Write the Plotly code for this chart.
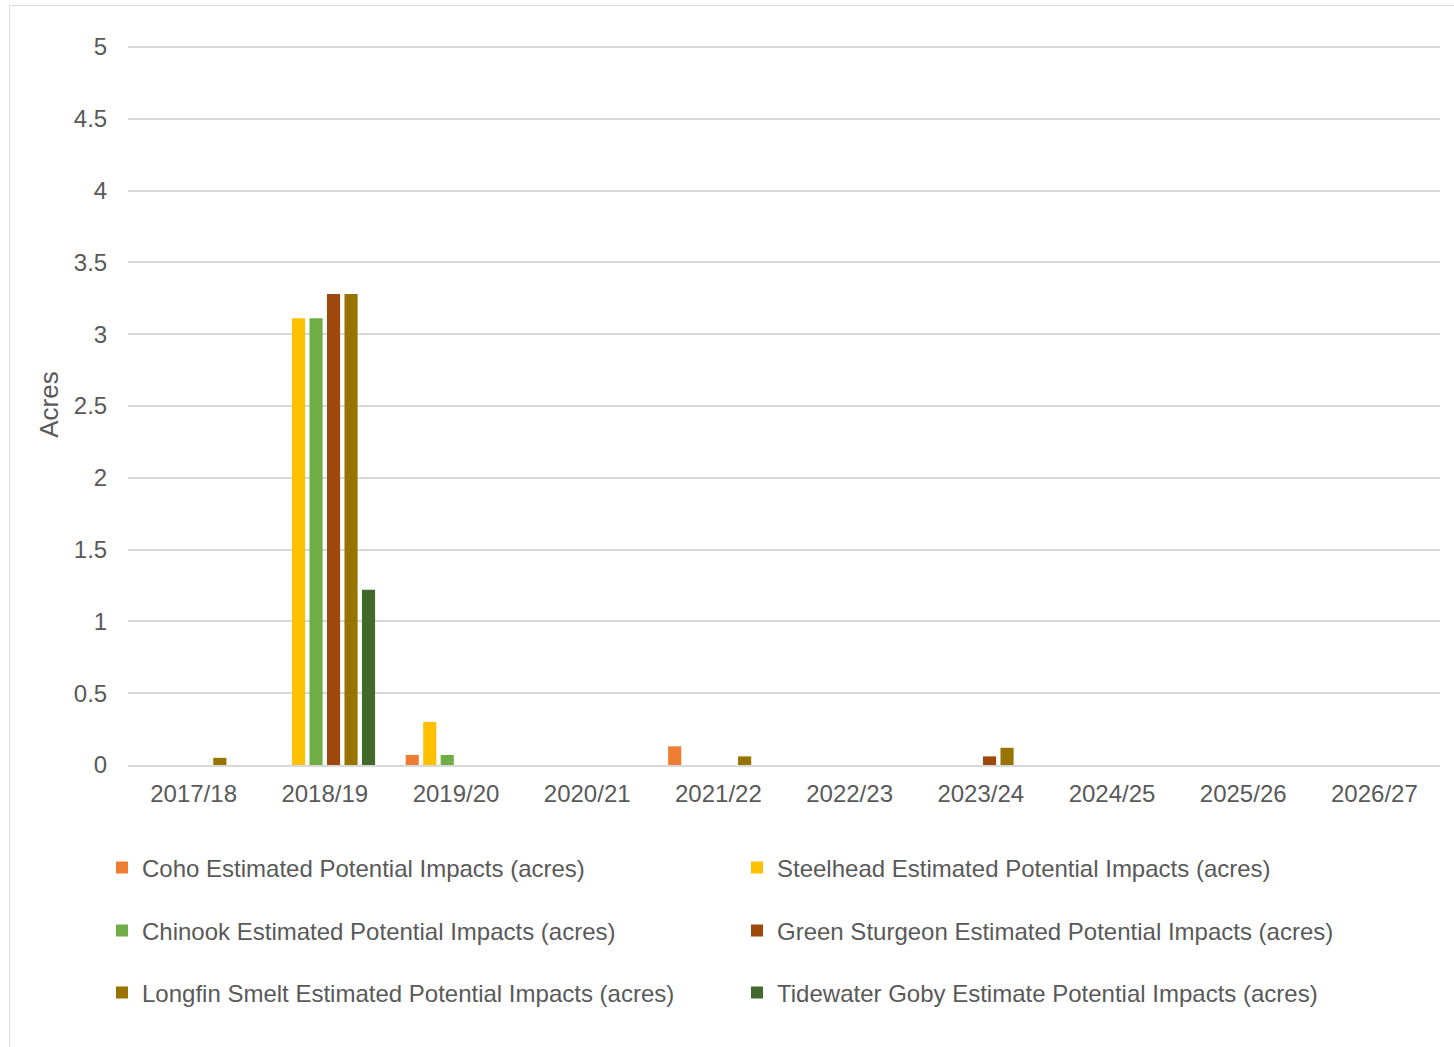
import plotly.graph_objects as go

# Fiscal years on the category axis
years = ["2017/18", "2018/19", "2019/20", "2020/21", "2021/22",
         "2022/23", "2023/24", "2024/25", "2025/26", "2026/27"]

# Estimated potential impacts per species (acres)
coho = [0, 0, 0.07, 0, 0.13, 0, 0, 0, 0, 0]
steelhead = [0, 3.11, 0.30, 0, 0, 0, 0, 0, 0, 0]
chinook = [0, 3.11, 0.07, 0, 0, 0, 0, 0, 0, 0]
green_sturgeon = [0, 3.28, 0, 0, 0, 0, 0.06, 0, 0, 0]
longfin_smelt = [0.05, 3.28, 0, 0, 0.06, 0, 0.12, 0, 0, 0]
tidewater_goby = [0, 1.22, 0, 0, 0, 0, 0, 0, 0, 0]

series = [
    ("Coho Estimated Potential Impacts (acres)", coho, "#ED7D31", "legend"),
    ("Steelhead Estimated Potential Impacts (acres)", steelhead, "#FFC000", "legend"),
    ("Chinook Estimated Potential Impacts (acres)", chinook, "#70AD47", "legend2"),
    ("Green Sturgeon Estimated Potential Impacts (acres)", green_sturgeon, "#9E480E", "legend2"),
    ("Longfin Smelt Estimated Potential Impacts (acres)", longfin_smelt, "#997300", "legend3"),
    ("Tidewater Goby Estimate Potential Impacts (acres)", tidewater_goby, "#43682B", "legend3"),
]

FONT = "Liberation Sans, Arial, sans-serif"
GREY_TEXT = "#595959"
GRID = "#D9D9D9"

W, H = 1454, 1047
L, R, T, B = 128, 14, 44, 282
plot_w = W - L - R
plot_h = H - T - B

fig = go.Figure()
for name, vals, color, leg in series:
    fig.add_trace(go.Bar(
        x=years, y=vals, name=name, legend=leg,
        marker=dict(color=color, line=dict(width=0)),
    ))


def py(pixel_y):
    return (H - B - pixel_y) / plot_h


def px(pixel_x):
    return (pixel_x - L) / plot_w


legend_style = dict(
    orientation="h", xanchor="left", yanchor="middle",
    font=dict(family=FONT, size=24, color=GREY_TEXT),
    entrywidth=590, entrywidthmode="pixels",
    bgcolor="rgba(0,0,0,0)", itemclick=False, itemdoubleclick=False,
    traceorder="normal",
)

fig.update_layout(
    width=W, height=H,
    margin=dict(l=L, r=R, t=T, b=B, autoexpand=False),
    paper_bgcolor="white", plot_bgcolor="white",
    font=dict(family=FONT, size=24, color=GREY_TEXT),
    barmode="group", bargap=0.2, bargroupgap=0.25,
    legend=dict(x=px(102), y=py(868), **legend_style),
    legend2=dict(x=px(102), y=py(931), **legend_style),
    legend3=dict(x=px(102), y=py(993), **legend_style),
    xaxis=dict(
        showgrid=False, showline=True, linecolor=GRID, linewidth=2,
        ticks="outside", ticklen=6, tickcolor="rgba(0,0,0,0)",
        tickfont=dict(family=FONT, size=24, color=GREY_TEXT),
    ),
    yaxis=dict(
        range=[0, 5.02], dtick=0.5, tick0=0,
        showgrid=True, gridcolor=GRID, gridwidth=1.5,
        zeroline=False, showline=False,
        ticks="outside", ticklen=15, tickcolor="rgba(0,0,0,0)",
        tickfont=dict(family=FONT, size=24, color=GREY_TEXT),
        title=dict(text="Acres", standoff=7,
                   font=dict(family=FONT, size=26, color=GREY_TEXT)),
    ),
    shapes=[dict(
        type="rect", xref="paper", yref="paper",
        x0=px(9.5), x1=px(1600), y0=py(5.5), y1=py(1200),
        line=dict(color=GRID, width=1), layer="below",
    )],
)

fig.write_html("out.html")
